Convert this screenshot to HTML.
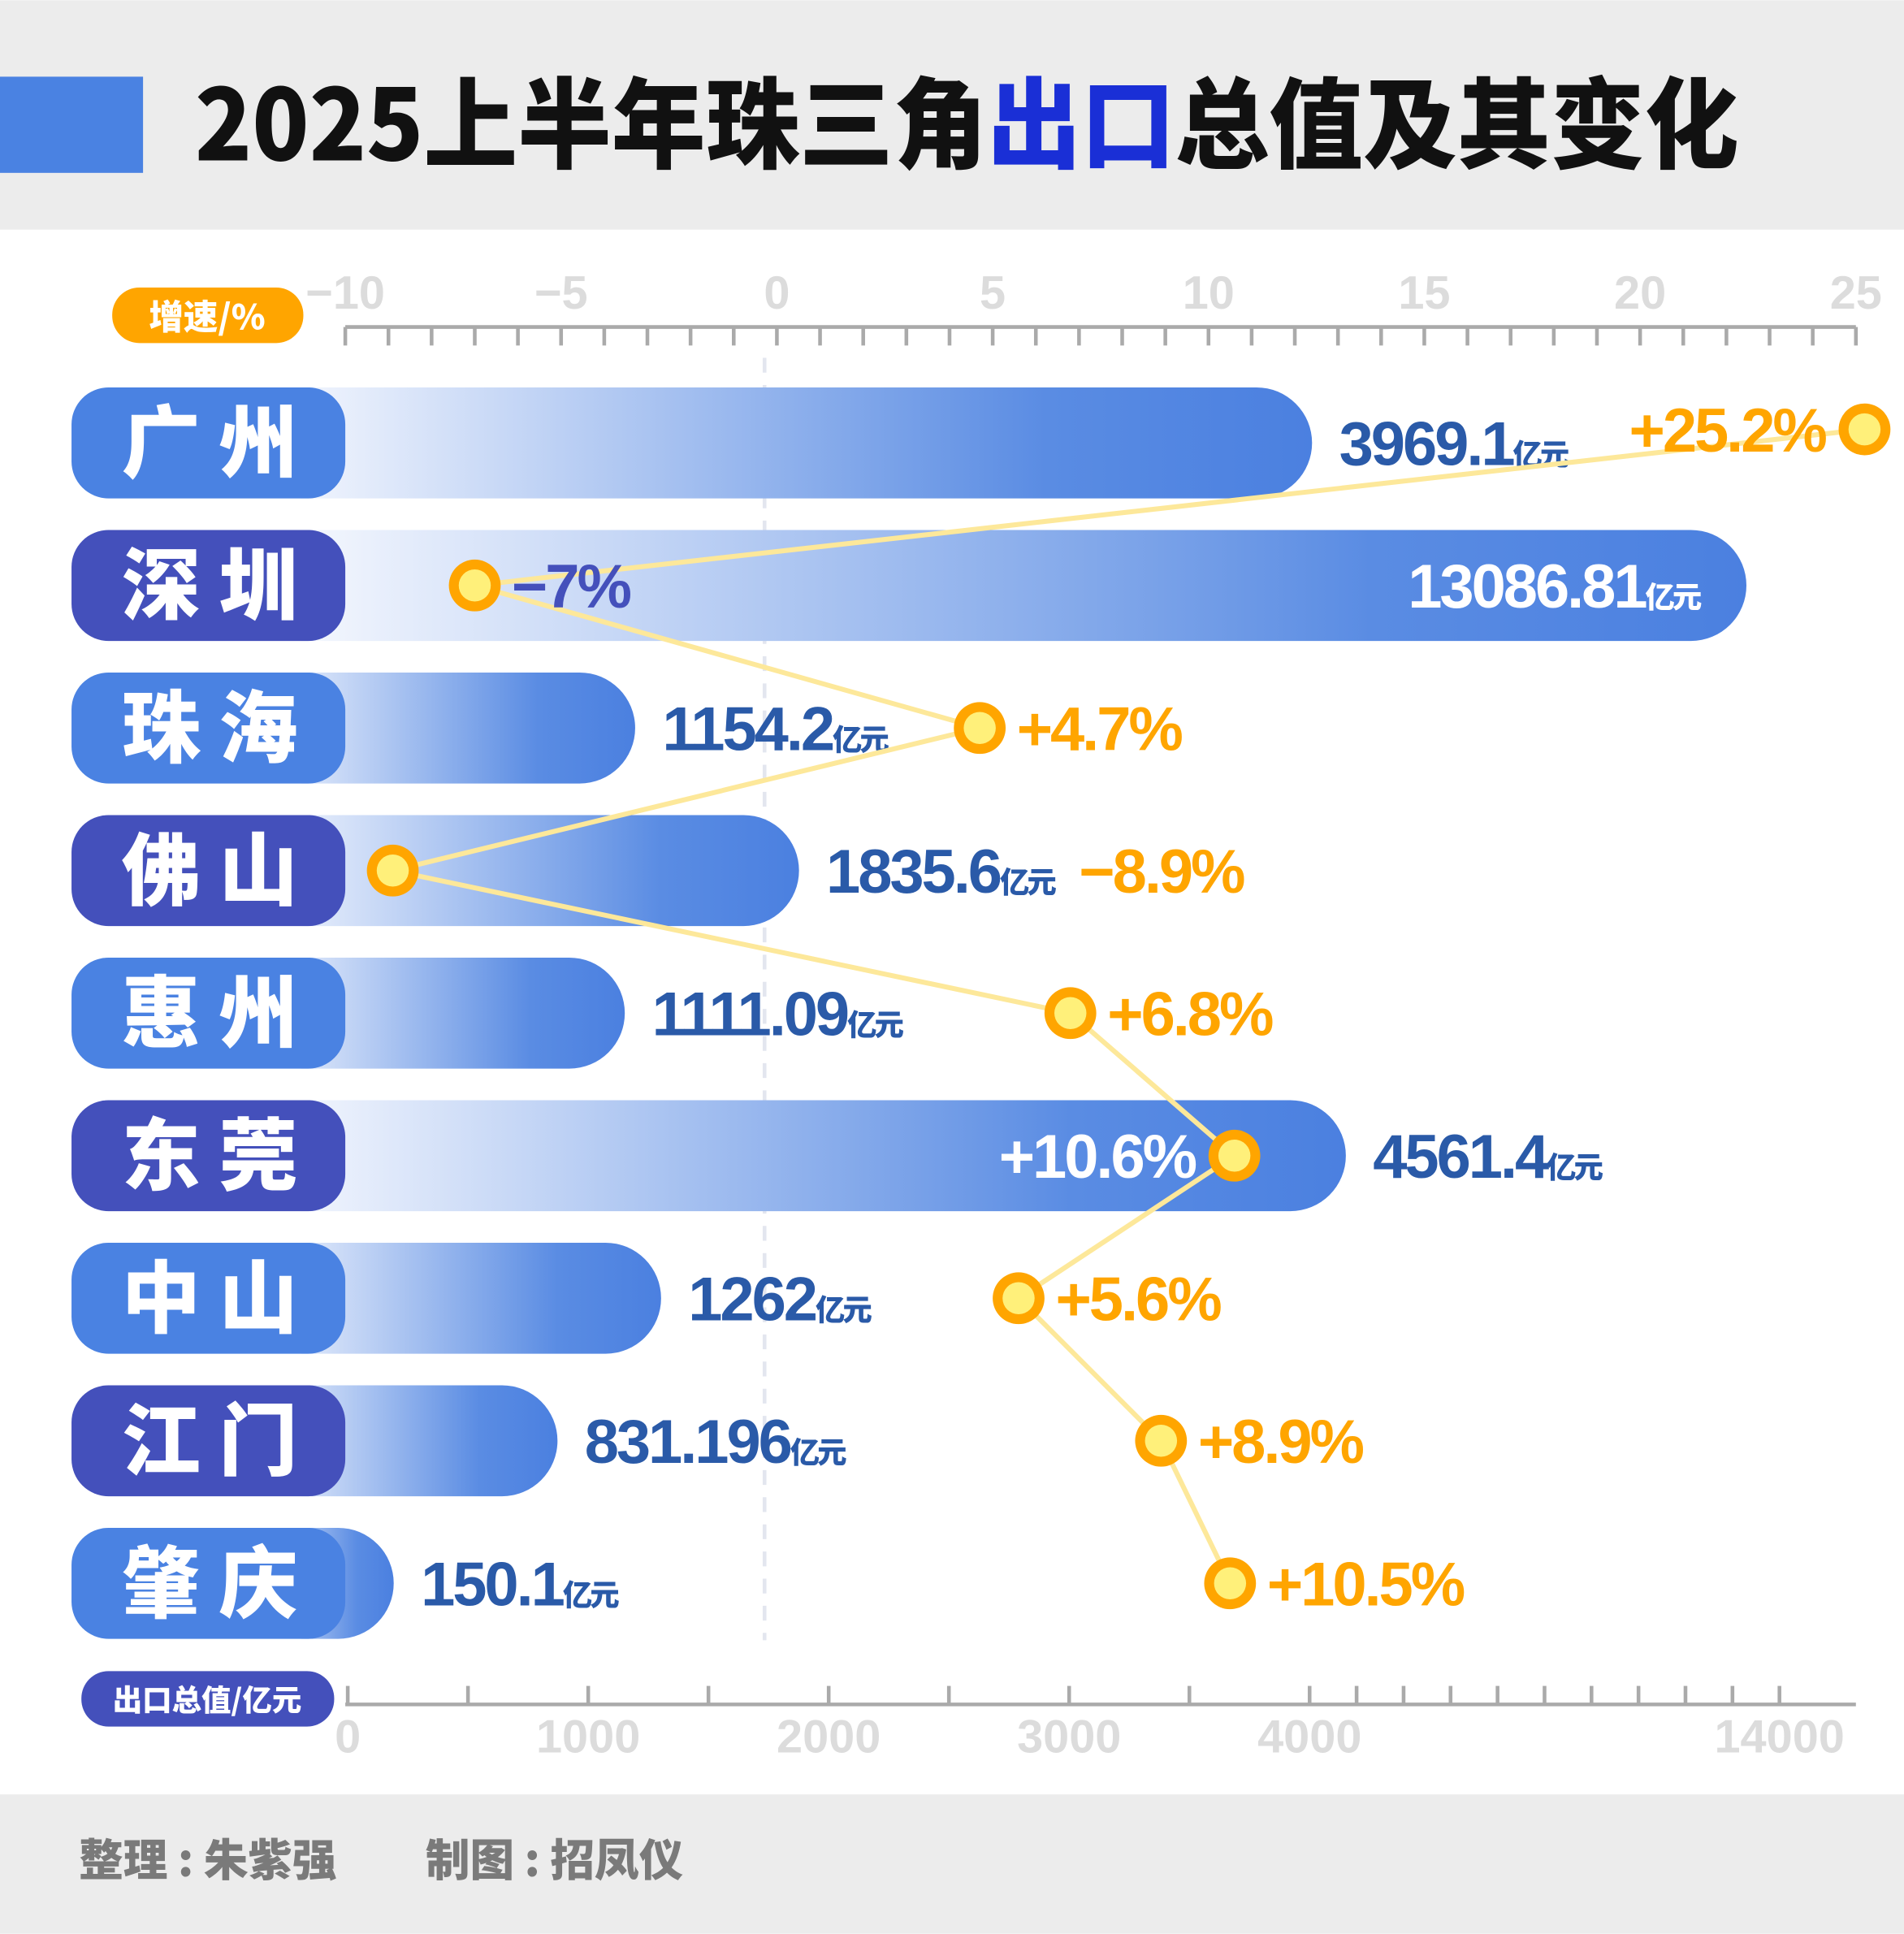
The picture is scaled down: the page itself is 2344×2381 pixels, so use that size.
<!DOCTYPE html>
<html><head><meta charset="utf-8"><style>
html,body{margin:0;padding:0;background:#fff;}
svg{display:block;}
text{font-family:"Liberation Sans","Noto Sans CJK SC",sans-serif;font-weight:bold;}
.cjk{font-family:"Noto Sans CJK SC","WenQuanYi Zen Hei",sans-serif;font-weight:900;}
</style></head><body>
<svg id="chart" width="2344" height="2381" viewBox="0 0 1544 1568" xmlns="http://www.w3.org/2000/svg">
<defs>
<linearGradient id="barGrad" x1="0" y1="0" x2="1" y2="0">
<stop offset="0" stop-color="#ffffff"/><stop offset="0.08" stop-color="#eaf0fc"/><stop offset="0.75" stop-color="#5a8ce3"/><stop offset="1" stop-color="#4b80e0"/>
</linearGradient>
</defs>
<rect x="0" y="0" width="1544" height="186" fill="#ececec"/>
<rect x="0" y="62" width="116" height="78" fill="#4a82e2"/>
<text class="cjk" x="158" y="130" font-size="80" textLength="1252" lengthAdjust="spacingAndGlyphs" fill="#111">2025上半年珠三角<tspan fill="#1a2fd6">出口</tspan>总值及其变化</text>
<rect x="0" y="1455" width="1544" height="113" fill="#ececec"/>
<text class="cjk" x="64" y="1521" font-size="36" fill="#7a7a7a">整理 : 朱紫强　　制图 : 招凤仪</text>
<line x1="620" y1="290" x2="620" y2="1330" stroke="#e3e6ef" stroke-width="3" stroke-dasharray="12,10"/>
<g id="topAxis"></g>
<g id="botAxis"></g>
<rect x="91" y="233" width="155" height="45" rx="22" fill="#ffa500"/>
<text class="cjk" x="168" y="267" font-size="28" fill="#fff" text-anchor="middle">增速/%</text>
<rect x="66" y="1355" width="205" height="45" rx="22" fill="#4450bb"/>
<text class="cjk" x="168" y="1387" font-size="24" fill="#fff" text-anchor="middle">出口总值/亿元</text>
<g id="bars"></g>
<g id="line"></g>
<g id="dots"></g>
</svg>
<script>
const cities = ["广州","深圳","珠海","佛山","惠州","东莞","中山","江门","肇庆"];
const exportValues = [3969.1,13086.81,1154.2,1835.6,1111.09,4561.4,1262,831.196,150.1];
const exportLabels = ["3969.1","13086.81","1154.2","1835.6","1111.09","4561.4","1262","831.196","150.1"];
const growthValues = [25.2,-7,4.7,-8.9,6.8,10.6,5.6,8.9,10.5];
const growthLabels = ["+25.2%","−7%","+4.7%","−8.9%","+6.8%","+10.6%","+5.6%","+8.9%","+10.5%"];
const growthTicks = [-10,-5,0,5,10,15,20,25];
const exportTicks = [0,1000,2000,3000,4000,14000];

const NS="http://www.w3.org/2000/svg";
function mk(tag,attrs,parent){const e=document.createElementNS(NS,tag);for(const k in attrs)e.setAttribute(k,attrs[k]);parent.appendChild(e);return e;}
function gx(v){return 630+35*v;}
function ex(v){return v<=4000?282+0.195*v:1062+(v-4000)*0.0381;}
function rowY(i){return 359+i*115.6;}

const topG=document.getElementById('topAxis');
let ln=mk('line',{x1:280,y1:265,x2:1505,y2:265,stroke:'#aaa','stroke-width':3},topG);


for(let v=-10;v<=25;v++){const t=mk('line',{x1:gx(v),y1:265,x2:gx(v),y2:280,stroke:'#aaa','stroke-width':3},topG);

}
growthTicks.forEach(v=>{const t=mk('text',{x:gx(v),y:250,'font-size':38,fill:'#dcdcdc','text-anchor':'middle'},topG);t.textContent=v<0?'−'+(-v):v;

});

const botG=document.getElementById('botAxis');
ln=mk('line',{x1:280,y1:1382,x2:1505,y2:1382,stroke:'#aaa','stroke-width':3},botG);


const minorTicks=[];for(let v=0;v<=4000;v+=500)minorTicks.push(v);for(let v=5000;v<=14000;v+=1000)minorTicks.push(v);
minorTicks.forEach(v=>{const t=mk('line',{x1:ex(v),y1:1367,x2:ex(v),y2:1382,stroke:'#aaa','stroke-width':3},botG);

});
exportTicks.forEach(v=>{const t=mk('text',{x:ex(v),y:1421,'font-size':38,fill:'#dcdcdc','text-anchor':'middle'},botG);t.textContent=v;

});

const barsG=document.getElementById('bars');
cities.forEach((c,i)=>{
 const y=rowY(i), x2=ex(exportValues[i])+8;
 const b=mk('rect',{x:200,y:y-45,width:x2-200,height:90,rx:45,fill:'url(#barGrad)'},barsG);
 
 
 const p=mk('rect',{x:58,y:y-45,width:222,height:90,rx:30,fill:i%2?'#4450bb':'#4a82e2'},barsG);
 
 
 const t=mk('text',{x:170,y:y+23,'font-size':64,fill:'#fff','text-anchor':'middle',class:'cjk'},barsG);t.textContent=c.split('').join(' ');
 
 
 const inside=exportValues[i]>10000;
 const vt=mk('text',{x:inside?x2-38:x2+22,y:y+18,'font-size':50,fill:inside?'#fff':'#2a5aa8','text-anchor':inside?'end':'start','letter-spacing':-2},barsG);
 vt.textContent=exportLabels[i];
 const u=mk('tspan',{'font-size':24,class:'cjk'},vt);u.textContent='亿元';
 
 
});

const pts=growthValues.map((v,i)=>[gx(v),rowY(i)]);
pts[0][1]=rowY(0)-11;
const pl=mk('polyline',{points:pts.map(p=>p.join(',')).join(' '),fill:'none',stroke:'#fde89a','stroke-width':4},document.getElementById('line'));


const dotsG=document.getElementById('dots');
growthValues.forEach((v,i)=>{
 const x=pts[i][0], y=pts[i][1];
 const o=mk('circle',{cx:x,cy:y,r:21,fill:'#ffa500'},dotsG);
 
 
 const inn=mk('circle',{cx:x,cy:y,r:13,fill:'#fff07a'},dotsG);
 
 
 let tx=x+30, anchor='start', fill='#ffa500';
 if(i===0){tx=x-32;anchor='end';}
 if(i===1){fill='#4450bb';}
 if(i===5){tx=x-32;anchor='end';fill='#fff';}
 if(i===3){tx=875;}
 const t=mk('text',{x:tx,y:y+18,'font-size':50,fill:fill,'text-anchor':anchor,'letter-spacing':-2},dotsG);t.textContent=growthLabels[i];
 
 
});
</script>
</body></html>
